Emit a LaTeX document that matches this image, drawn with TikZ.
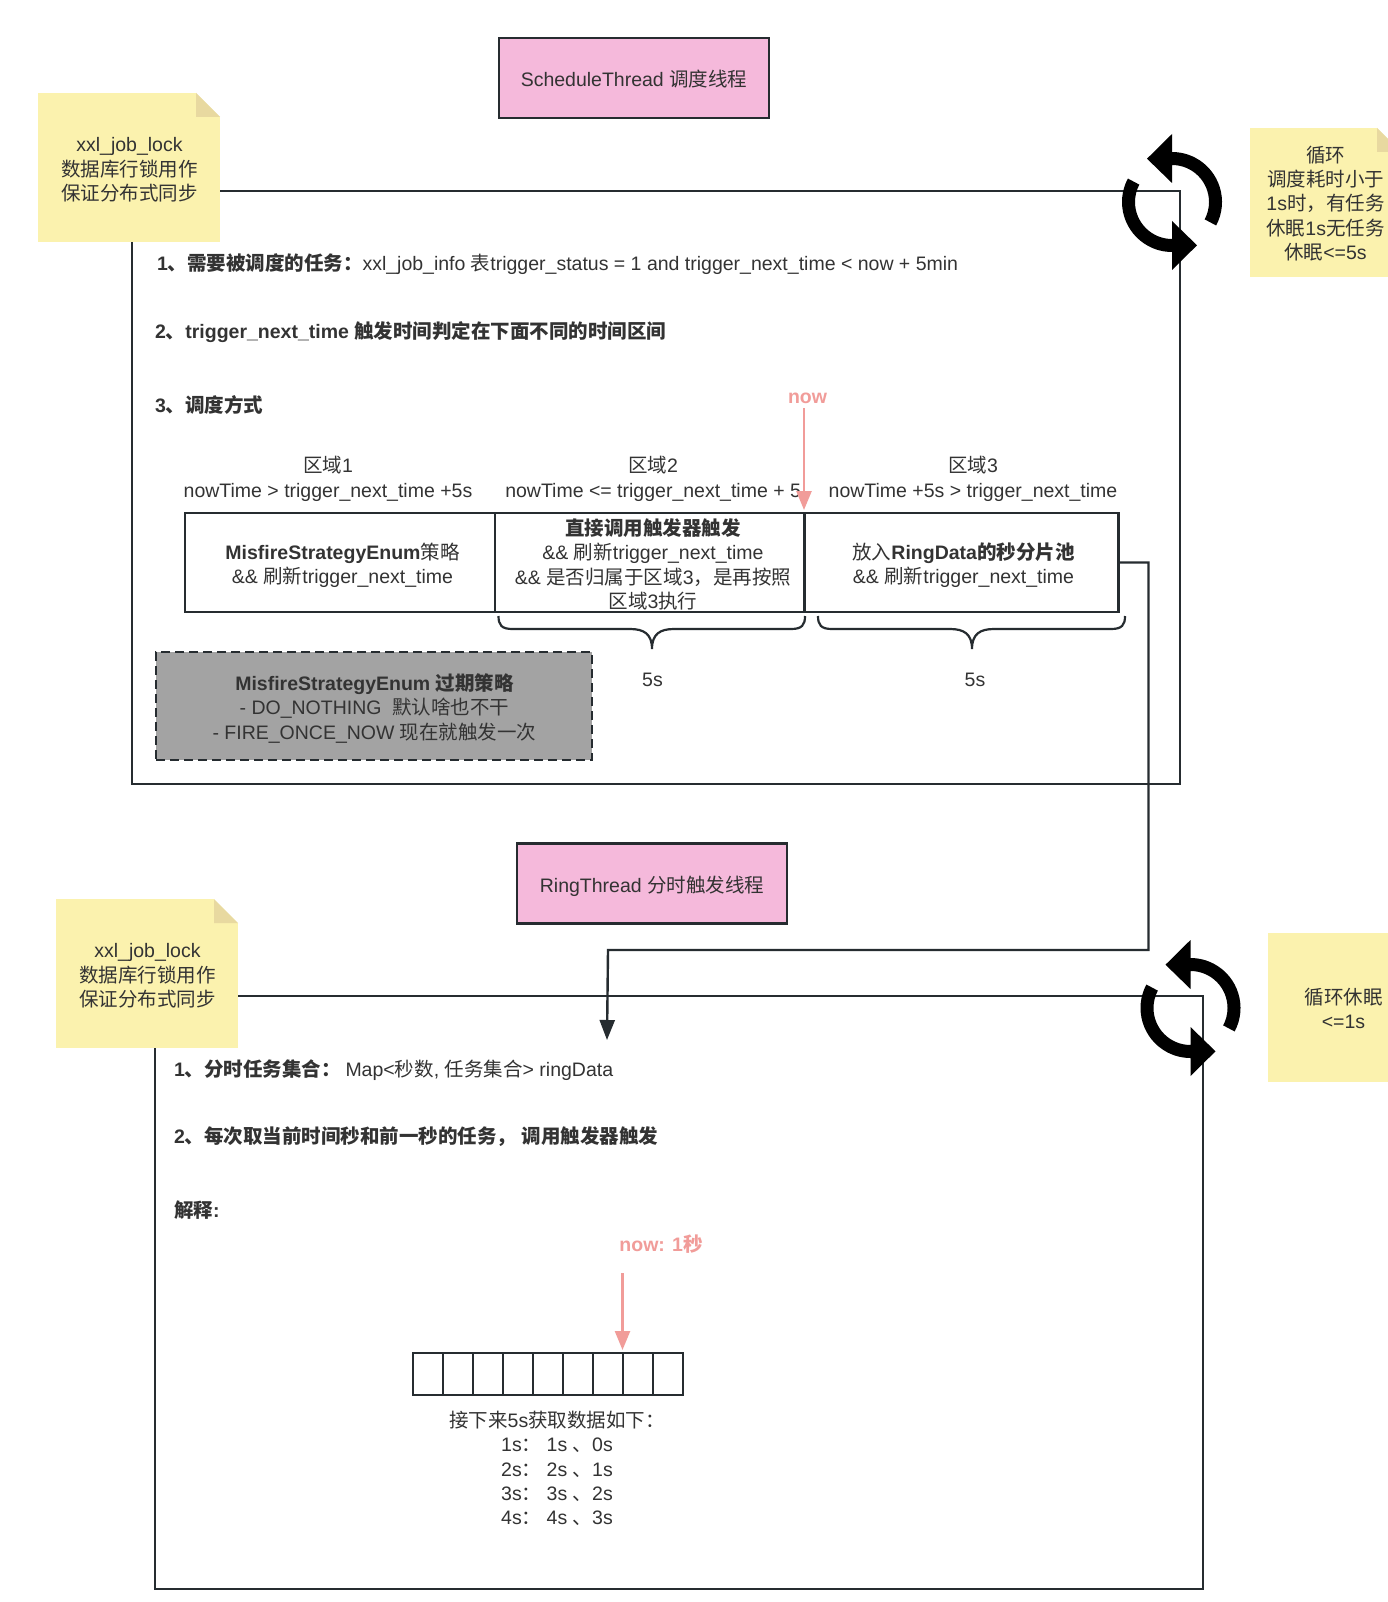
\documentclass[tikz,border=0pt]{standalone}
\usepackage{fontspec}
\setmainfont{Liberation Sans}
\newfontfamily\cjk{Noto Sans CJK SC}
\newcommand{\zh}[1]{{\cjk #1}}
\usetikzlibrary{arrows.meta,calc}
\definecolor{linec}{HTML}{262C30}
\definecolor{txtc}{HTML}{333333}
\definecolor{notey}{HTML}{FBF2AE}
\definecolor{foldy}{HTML}{E8D9A0}
\definecolor{pinkb}{HTML}{F5B9DB}
\definecolor{redp}{HTML}{F19C99}
\definecolor{grayb}{HTML}{A3A3A3}
\tikzset{
  base/.style={font=\fontsize{19.5}{24.4}\selectfont,text=txtc,align=center,inner sep=0pt,outer sep=0pt},
  lab/.style={base,anchor=base west},
  ctr/.style={base,anchor=center},
  titlebox/.style={base,draw=linec,line width=2.4pt,fill=pinkb,minimum width=270pt,minimum height=80pt},
  notebox/.style={base,fill=notey,minimum width=182pt,minimum height=149pt},
  framebox/.style={draw=linec,line width=2.4pt},
  cellbox/.style={base,draw=linec,line width=2.4pt,minimum height=99pt},
  slot/.style={draw=linec,line width=2.4pt,minimum width=30pt,minimum height=42pt,inner sep=0pt,outer sep=0pt},
  misfire/.style={base,draw=linec,line width=2.4pt,dash pattern=on 9pt off 5pt,fill=grayb,minimum width=436pt,minimum height=108pt},
  nowtext/.style={base,font=\fontsize{19.5}{24.4}\selectfont\bfseries,text=redp},
  nowarrow/.style={draw=redp,line width=2.4pt,-{Triangle[length=19pt,width=15pt,fill=redp]}},
  wire/.style={draw=linec,line width=2.4pt,-{Triangle[length=20pt,width=15pt,fill=linec]}},
  bracepath/.style={draw=linec,line width=2.2pt}
}
\newcommand{\foldon}[1]{%
  \fill[white] (#1.north east) ++(-24,0) -- ++(24,24) -- ++(0,-24) -- cycle;
  \fill[foldy] (#1.north east) ++(-24,0) -- ++(24,24) -- ++(-24,0) -- cycle;}
\newcommand{\cycleicon}[2]{%
  \begin{scope}[shift={(#1,#2)},x=1pt,y=1pt]
    \foreach \r in {0,180}{
      \fill[black,rotate=\r] (-28:50) arc[start angle=-28,end angle=90,radius=50pt]
        -- (0,68) -- (-25,43.3) -- (0,19) -- (0,37)
        arc[start angle=90,end angle=-28,radius=37pt] -- cycle;
    }
  \end{scope}}
\newcommand{\curlybrace}[3]{% x1, xtip, x2
  \draw[bracepath] (#1,616) .. controls (#1,625) and (#1+3,629) .. (#1+14,629)
     -- (#2-22,629) .. controls (#2-8,629) and (#2,634) .. (#2,649)
     .. controls (#2,634) and (#2+8,629) .. (#2+22,629)
     -- (#3-14,629) .. controls (#3-3,629) and (#3,625) .. (#3,616);}
\begin{document}
\begin{tikzpicture}[x=1pt,y=-1pt]
\useasboundingbox (0,0) rectangle (1388,1602);
\fill[white] (0,0) rectangle (1388,1602);
\clip (0,0) rectangle (1388,1602);

% section 1
\draw[framebox] (132,191) rectangle (1180,784);
\cycleicon{1172}{202}
\node[titlebox] (sched) at (634,78) {};
\node[ctr] (schedt) at (634,79) {ScheduleThread \zh{调度线程}};
\node[notebox] (n1) at (129,167.5) {};
\foldon{n1}
\node[ctr] (n1t) at (129.5,170) {xxl\_job\_lock\\\zh{数据库行锁用作}\\\zh{保证分布式同步}};
\node[notebox,minimum width=151pt] (n3) at (1325.5,202.5) {};
\foldon{n3}
\node[ctr] (n3t) at (1325.5,203.5) {\zh{循环}\\\zh{调度耗时小于}\\1s\zh{时，有任务}\\\zh{休眠}1s\zh{无任务}\\\zh{休眠}<=5s};

\node[lab] (t1) at (157,271) {\textbf{1\zh{、需要被调度的任务：}}};
\node[lab] (t1b) at (362.5,271) {xxl\_job\_info \zh{表}trigger\_status = 1 and trigger\_next\_time < now + 5min};
\node[lab] (t2) at (155,338) {\textbf{2\zh{、}trigger\_next\_time \zh{触发时间判定在下面不同的时间区间}}};
\node[lab] (t3) at (155,412) {\textbf{3\zh{、调度方式}}};

\node[ctr] (r1) at (328,479) {\zh{区域}1\\nowTime > trigger\_next\_time +5s};
\node[ctr] (r2) at (653,479) {\zh{区域}2\\\hspace*{10pt}nowTime <= trigger\_next\_time + 5\phantom{s}};
\node[ctr] (r3) at (973,479) {\zh{区域}3\\nowTime +5s > trigger\_next\_time};

\node[cellbox,minimum width=310pt] (c1) at (340,562.5) {};
\node[cellbox,minimum width=310pt] (c2) at (650,562.5) {};
\node[cellbox,minimum width=314pt] (c3) at (961.5,562.5) {};
\node[ctr] (c1t) at (342.5,565) {\textbf{MisfireStrategyEnum}\zh{策略}\\\&\& \zh{刷新}trigger\_next\_time};
\node[ctr] (c2t) at (653,564.5) {\textbf{\zh{直接调用触发器触发}}\\\&\& \zh{刷新}trigger\_next\_time\\\&\& \zh{是否归属于区域}3\zh{，是再按照}\\\zh{区域}3\zh{执行}};
\node[ctr] (c3t) at (963.5,565) {\zh{放入}\textbf{RingData\zh{的秒分片池}}\\\&\& \zh{刷新}trigger\_next\_time};

\curlybrace{498.5}{652}{805}
\curlybrace{818}{972}{1125}
\node[ctr] (s1) at (652.5,680) {5s};
\node[ctr] (s2) at (975,680) {5s};

\node[misfire] (mf) at (374,706) {};
\node[ctr] (mft) at (374.5,708.5) {\textbf{MisfireStrategyEnum \zh{过期策略}}\\- DO\_NOTHING~~\zh{默认啥也不干}\\- FIRE\_ONCE\_NOW \zh{现在就触发一次}};

\node[nowtext] (now1) at (807.5,398) {now};
\coordinate (now1s) at (804,408);
\coordinate (now1e) at (804,510);
\draw[nowarrow] (now1s) -- (now1e);

% section 2
\draw[framebox] (155,996) rectangle (1203,1589);
\cycleicon{1190.5}{1008}
\node[titlebox] (ring) at (652,883.5) {};
\node[ctr] (ringt) at (652,886) {RingThread \zh{分时触发线程}};
\node[notebox] (n2) at (147,973.5) {};
\foldon{n2}
\node[ctr] (n2t) at (147.5,976) {xxl\_job\_lock\\\zh{数据库行锁用作}\\\zh{保证分布式同步}};
\node[notebox,minimum width=151pt] (n4) at (1343.5,1007.5) {};
\node[ctr] (n4t) at (1343.5,1008.5) {\zh{循环休眠}\\<=1s};

\node[lab] (u1) at (174,1076) {\textbf{1\zh{、分时任务集合：}}};
\node[lab] (u1b) at (345.5,1076) {Map<\zh{秒数}, \zh{任务集合}> ringData};
\node[lab] (u2) at (174,1143) {\textbf{2\zh{、每次取当前时间秒和前一秒的任务，} \zh{调用触发器触发}}};
\node[lab] (u3) at (174,1217) {\textbf{\zh{解释}:}};

\node[nowtext] (now2) at (661,1244) {now: 1\zh{秒}};
\coordinate (now2s) at (622.5,1273);
\coordinate (now2e) at (622.5,1350);
\draw[nowarrow] (now2s) -- (now2e);

\foreach \i in {0,...,8}{
  \node[slot] (sl\i) at ({428+30*\i},1374) {};
}
\node[ctr] (res) at (557,1468.5) {\zh{接下来}5s\zh{获取数据如下：}\\1s\zh{：}~1s \zh{、}0s\\2s\zh{：}~2s \zh{、}1s\\3s\zh{：}~3s \zh{、}2s\\4s\zh{：}~4s \zh{、}3s};

% connector from region 3 to the ring data
\coordinate (wiretip) at (607,1040);
\draw[wire] (c3.east) -- ++(30,0) |- (608,950) -- (wiretip);
\end{tikzpicture}
\end{document}
